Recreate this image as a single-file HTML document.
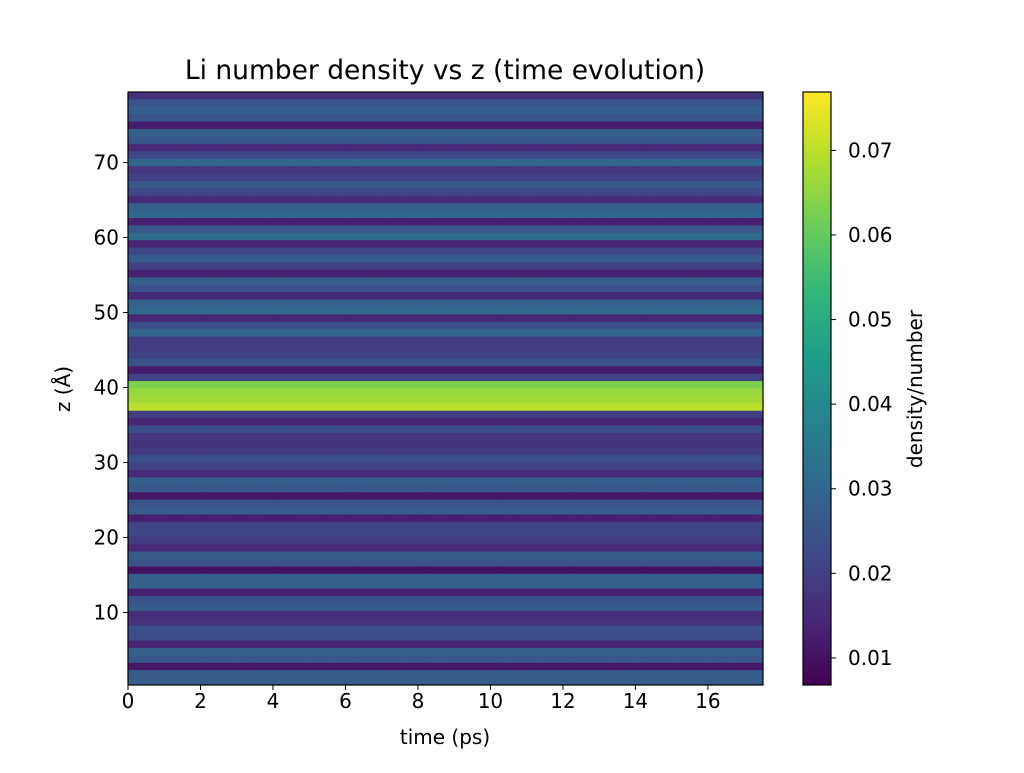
<!DOCTYPE html>
<html><head><meta charset="utf-8"><style>
body{margin:0;background:#fff;width:1024px;height:768px;overflow:hidden}
text{font-family:"DejaVu Sans","Liberation Sans",sans-serif;fill:#000}
</style></head><body>
<svg id="chart" width="1024" height="768" xmlns="http://www.w3.org/2000/svg"></svg>
<script>
// row profile, top (high z) to bottom (low z)
const rowValues = [0.017,0.025,0.028,0.025,0.012,0.028,0.026,0.015,0.022,0.030,0.018,0.020,0.026,0.022,0.015,0.028,0.030,0.013,0.026,0.031,0.014,0.022,0.027,0.020,0.013,0.028,0.024,0.015,0.028,0.031,0.014,0.024,0.030,0.019,0.019,0.021,0.025,0.012,0.021,
0.063,0.066,0.067,0.070,
0.020,0.014,0.024,0.018,0.017,0.019,0.024,0.021,0.015,0.028,0.026,0.011,0.025,0.027,0.013,0.021,0.022,0.019,0.015,0.027,0.025,0.010,0.028,0.028,0.013,0.025,0.027,0.016,0.017,0.024,0.023,0.014,0.028,0.026,0.011,0.027,0.027];
const nCols = 88;
const xTicks = [0,2,4,6,8,10,12,14,16];
const yTicks = [10,20,30,40,50,60,70];
const cbTicks = [0.01,0.02,0.03,0.04,0.05,0.06,0.07];
const tMax = 17.52, zMin = 0.33, zMax = 79.4, vMin = 0.0068, vMax = 0.0769;

const L=128,R=763,T=92,B=685;
const sx=t=>L+(t/tMax)*(R-L);
const sy=z=>B-(z-zMin)/(zMax-zMin)*(B-T);
const CB={x:803,w:28};
const cy=v=>B-(v-vMin)/(vMax-vMin)*(B-T);
const vir=[[68,1,84],[72,40,120],[62,74,137],[49,104,142],[38,130,142],[31,158,137],[53,183,121],[109,205,89],[180,222,44],[253,231,37]];
function color(v){let f=Math.max(0,Math.min(1,(v-vMin)/(vMax-vMin)))*(vir.length-1);let i=Math.min(Math.floor(f),vir.length-2),r=f-i;
 const c=vir[i].map((a,k)=>Math.round(a+(vir[i+1][k]-a)*r));return `rgb(${c})`;}
const svg=document.getElementById('chart');const NS='http://www.w3.org/2000/svg';
function el(tag,attrs,txt){const e=document.createElementNS(NS,tag);for(const k in attrs)e.setAttribute(k,attrs[k]);if(txt!=null)e.textContent=txt;svg.appendChild(e);return e;}
const nRows=rowValues.length, rh=(B-T)/nRows, cw=(R-L)/nCols;
rowValues.forEach((v,r)=>{for(let c=0;c<nCols;c++){
 const e=el('rect',{x:L+c*cw,y:T+r*rh,width:cw+0.5,height:rh+0.5,fill:color(v)});
 
 }});
const frame=el('rect',{x:L,y:T,width:R-L,height:B-T,fill:'none',stroke:'#000','stroke-width':1.2});

xTicks.forEach(t=>{const x=sx(t);el('line',{x1:x,x2:x,y1:B,y2:B+5,stroke:'#000'});
 const e=el('text',{x:x,y:B+23,'font-size':20,'text-anchor':'middle'},t);
 });
yTicks.forEach(z=>{const y=sy(z);el('line',{x1:L-5,x2:L,y1:y,y2:y,stroke:'#000'});
 const e=el('text',{x:L-9,y:y+7,'font-size':20,'text-anchor':'end'},z);
 });
// colorbar
const defs=el('defs',{});const g=document.createElementNS(NS,'linearGradient');g.setAttribute('id','vg');g.setAttribute('x1','0');g.setAttribute('y1','1');g.setAttribute('x2','0');g.setAttribute('y2','0');
vir.forEach((c,i)=>{const s=document.createElementNS(NS,'stop');s.setAttribute('offset',i/(vir.length-1));s.setAttribute('stop-color',`rgb(${c})`);g.appendChild(s);});defs.appendChild(g);
const cb=el('rect',{x:CB.x,y:T,width:CB.w,height:B-T,fill:'url(#vg)',stroke:'#000','stroke-width':1.2});

cbTicks.forEach(v=>{const y=cy(v);el('line',{x1:CB.x+CB.w,x2:CB.x+CB.w+5,y1:y,y2:y,stroke:'#000'});
 const e=el('text',{x:CB.x+CB.w+17,y:y+7,'font-size':20},v.toFixed(2));
 });
let e=el('text',{x:445,y:79,'font-size':26.5,'text-anchor':'middle'},'Li number density vs z (time evolution)');

e=el('text',{x:445,y:744,'font-size':20,'text-anchor':'middle'},'time (ps)');

e=el('text',{x:0,y:0,'font-size':20,'text-anchor':'middle',transform:'translate(70,389) rotate(-90)'},'z (Å)');

e=el('text',{x:0,y:0,'font-size':20,'text-anchor':'middle',transform:'translate(922,389) rotate(-90)'},'density/number');

</script>
</body></html>
